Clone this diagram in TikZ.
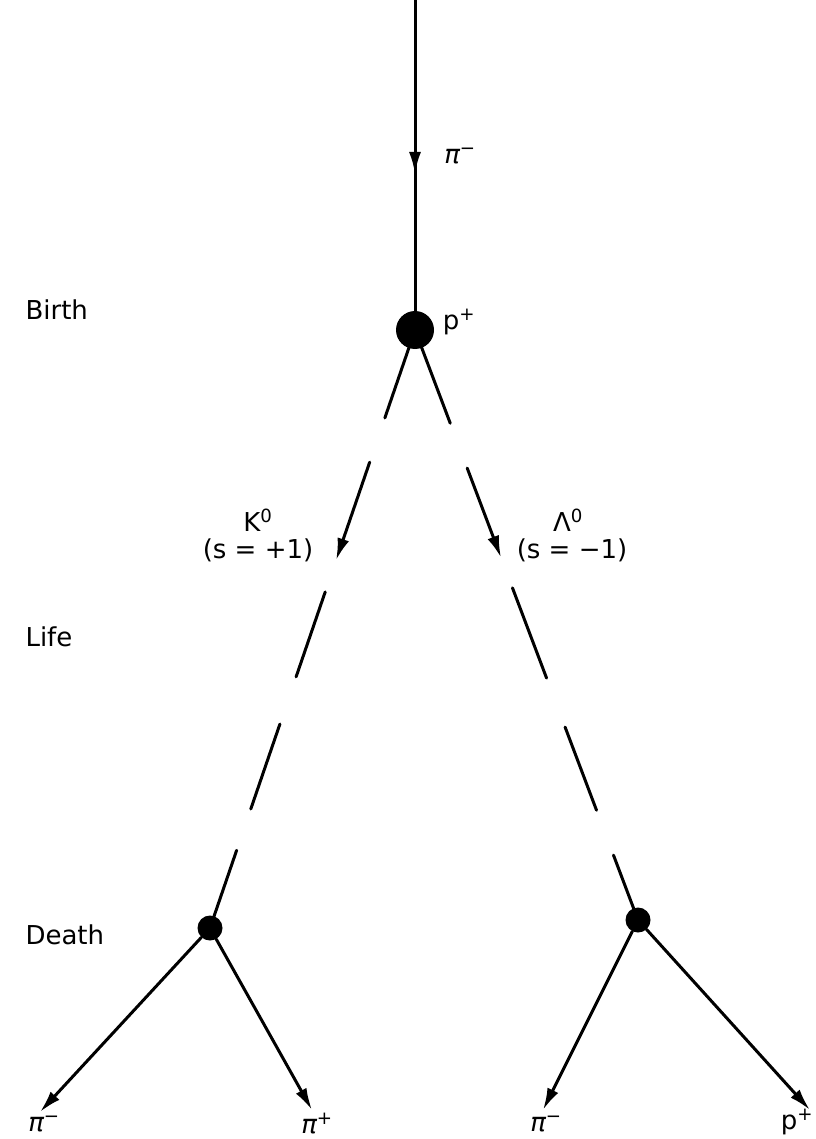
\documentclass[tikz,border=0pt]{standalone}
\usepackage{fontspec}
\setmainfont{DejaVu Sans}
\usetikzlibrary{calc,arrows.meta}
\begin{document}
\begin{tikzpicture}[x=1pt,y=-1pt,
 line/.style={line width=3pt,line cap=round},
 arr/.style={-{Latex[length=22pt,width=12pt]}},
 dotbig/.style={circle,fill=black,minimum size=38pt,inner sep=0pt},
 dotsm/.style={circle,fill=black,minimum size=25pt,inner sep=0pt},
 lab/.style={font=\fontsize{26}{30}\selectfont},
 plab/.style={font=\fontsize{26}{30}\selectfont\itshape}]
\useasboundingbox (0,0) rectangle (815,1139);
\fill[white] (0,0) rectangle (815,1139);
% vertices
\coordinate (top) at (415,0);
\coordinate (tip0) at (415,174);
\node[dotbig] (V) at (415,330) {};
\node[dotsm] (L) at (210,928) {};
\node[dotsm] (R) at (638,920) {};
\coordinate (a1) at (40,1112);
\coordinate (a2) at (312,1110);
\coordinate (a3) at (543,1110);
\coordinate (a4) at (810,1110);
% incoming pion
\draw[line] (top) -- (V);
\draw[line,arr] (top) -- (tip0);
% K0 track (dashed)
\foreach \s/\e in {0/0.147,0.438/0.580,0.659/0.801,0.870/1}
  \draw[line] ($(V)!\s!(L)$) -- ($(V)!\e!(L)$);
\draw[line,arr] ($(V)!0.221!(L)$) -- ($(V)!0.385!(L)$);
% Lambda0 track (dashed)
\foreach \s/\e in {0/0.158,0.437/0.590,0.673/0.814,0.890/1}
  \draw[line] ($(V)!\s!(R)$) -- ($(V)!\e!(R)$);
\draw[line,arr] ($(V)!0.234!(R)$) -- ($(V)!0.386!(R)$);
% decays
\draw[line,arr] (L) -- (a1);
\draw[line,arr] (L) -- (a2);
\draw[line,arr] (R) -- (a3);
\draw[line,arr] (R) -- (a4);
% labels
\node[plab] (lpi) at (460,156) {π\textsuperscript{−}};
\node[lab] (lp) at (459,322) {p\textsuperscript{+}};
\node[lab,anchor=west] (birth) at (22,310) {Birth};
\node[lab,anchor=west] (life) at (22,637) {Life};
\node[lab,anchor=west] (death) at (22,935) {Death};
\node[lab] (lk) at (258,520) {K\textsuperscript{0}};
\node[lab] (lks) at (258,550) {(s = +1)};
\node[lab] (ll) at (568,520) {Λ\textsuperscript{0}};
\node[lab] (lls) at (572,550) {(s = −1)};
\node[plab] (b1) at (44,1124) {π\textsuperscript{−}};
\node[plab] (b2) at (317,1124) {π\textsuperscript{+}};
\node[plab] (b3) at (546,1124) {π\textsuperscript{−}};
\node[lab] (b4) at (797,1122) {p\textsuperscript{+}};
\end{tikzpicture}
\end{document}
